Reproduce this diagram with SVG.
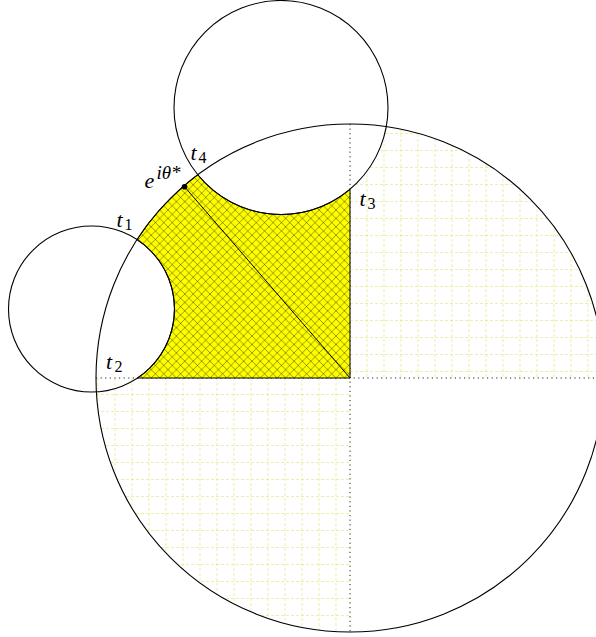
<svg xmlns="http://www.w3.org/2000/svg" width="596" height="637" viewBox="0 0 596 637">
<style>
.circ{fill:none;stroke:#000;stroke-width:1.1}
.grid{fill:none;stroke:#e9e27a;stroke-width:1;stroke-dasharray:3 2;opacity:0.65}
.axis{fill:none;stroke:#222;stroke-width:1;stroke-dasharray:1.2 3.4}
.lbl{font-family:"Liberation Serif","Times New Roman",serif;font-style:italic;font-size:22px;fill:#000}
.sub{font-family:"Liberation Serif","Times New Roman",serif;font-size:16px;fill:#000}
.sup{font-family:"Liberation Serif","Times New Roman",serif;font-style:italic;font-size:19px;fill:#000}
</style>
<defs>
<pattern id="hatch" patternUnits="userSpaceOnUse" width="8.4" height="8.4">
<rect width="8.4" height="8.4" fill="#ffff00"/>
<path d="M-1,-1 L9.4,9.4 M9.4,-1 L-1,9.4" stroke="#000" stroke-opacity="0.5" stroke-width="0.8"/>
</pattern>
<clipPath id="clipUR"><path d="M350,378 L604,378 A254,254 0 0 0 386.28,126.6 A107,107 0 0 1 350,189.3 Z"/></clipPath>
<clipPath id="clipLL"><path d="M350,378 L96,378 A254,254 0 0 0 350,632 Z"/></clipPath>
</defs>
<rect width="596" height="637" fill="#fff"/>
<g id="grid-upper-right" clip-path="url(#clipUR)">
<path class="grid" d="M367,124V378M384,124V378M401,124V378M418,124V378M435,124V378M452,124V378M469,124V378M486,124V378M503,124V378M520,124V378M537,124V378M554,124V378M571,124V378M588,124V378"/>
<path class="grid" d="M350,133.5H604M350,150.5H604M350,167.5H604M350,184.5H604M350,201.5H604M350,218.5H604M350,235.5H604M350,252.5H604M350,269.5H604M350,286.5H604M350,303.5H604M350,320.5H604M350,337.5H604M350,354.5H604M350,371.5H604"/>
</g>
<g id="grid-lower-left" clip-path="url(#clipLL)">
<path class="grid" d="M98,378V632M115,378V632M132,378V632M149,378V632M166,378V632M183,378V632M200,378V632M217,378V632M234,378V632M251,378V632M268,378V632M285,378V632M302,378V632M319,378V632M336,378V632"/>
<path class="grid" d="M96,394.5H350M96,411.5H350M96,428.5H350M96,445.5H350M96,462.5H350M96,479.5H350M96,496.5H350M96,513.5H350M96,530.5H350M96,547.5H350M96,564.5H350M96,581.5H350M96,598.5H350M96,615.5H350M96,632.5H350"/>
</g>
<g id="axes">
<path class="axis" d="M96,378H596"/>
<path class="axis" d="M350,124V632" stroke="#777"/>
</g>
<g id="region">
<path d="M350,378 L137.6,378 A83,83 0 0 0 137.0,239.6 A254,254 0 0 1 197.7,174.7 A107,107 0 0 0 350,189.3 Z" fill="url(#hatch)" stroke="#000" stroke-width="1"/>
</g>
<g id="unit-circle"><circle class="circ" cx="350" cy="378" r="254"/></g>
<g id="circle-top"><circle class="circ" cx="281" cy="107.5" r="107"/></g>
<g id="circle-left"><circle class="circ" cx="91.5" cy="309" r="83"/></g>
<g id="connectors">
<line x1="183.8" y1="185.9" x2="350" y2="378" stroke="#000" stroke-width="1"/>
</g>
<g id="point"><circle cx="184.5" cy="186.8" r="2.8" fill="#000"/></g>
<g id="labels">
<text class="lbl" x="116.5" y="227">t</text><text class="sub" x="124.5" y="230">1</text>
<text class="lbl" x="190.5" y="160">t</text><text class="sub" x="198.5" y="162.5">4</text>
<text class="lbl" x="359.5" y="205.5">t</text><text class="sub" x="367.5" y="209">3</text>
<text class="lbl" x="106" y="369">t</text><text class="sub" x="114.5" y="372">2</text>
<text class="lbl" x="144.5" y="188">e</text><text class="sup" x="156.5" y="179">iθ*</text>
</g>
</svg>
